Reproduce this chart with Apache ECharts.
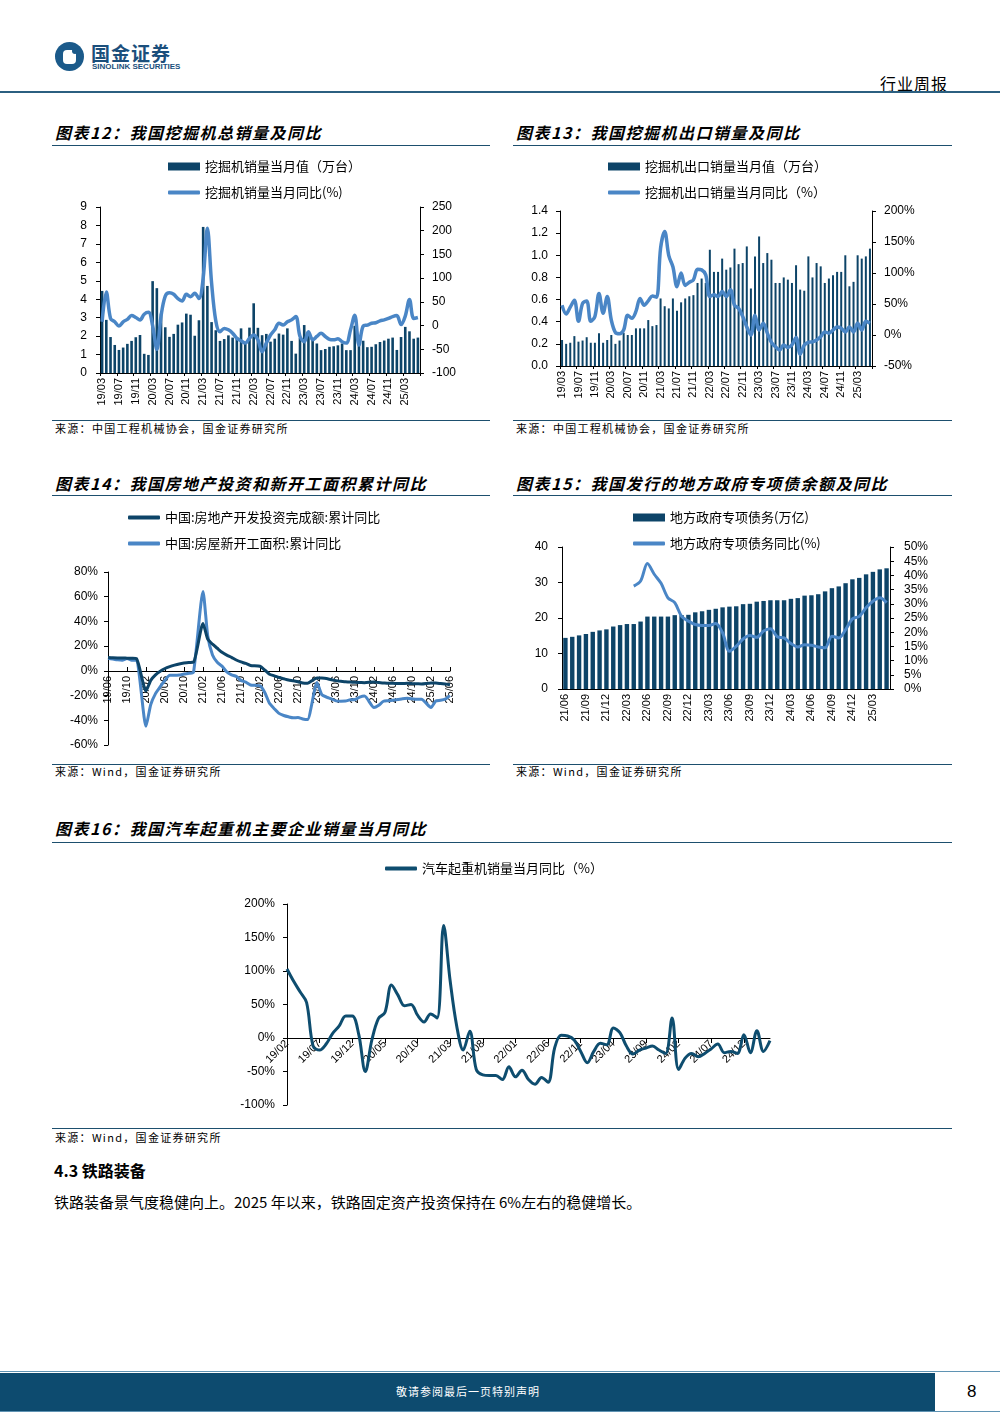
<!DOCTYPE html>
<html><head><meta charset="utf-8">
<script src="https://cdn.jsdelivr.net/npm/echarts/dist/echarts.min.js"></script>
<style>
body{margin:0;background:#fff;}
#page{position:relative;width:1000px;height:1414px;overflow:hidden;font-family:"Noto Sans CJK SC",sans-serif;color:#000;}
.chart{position:absolute;left:0;top:0;width:1000px;height:1414px;}
.t{position:absolute;white-space:nowrap;line-height:1;}
.title{font-size:16px;font-weight:bold;font-style:italic;letter-spacing:1.5px;}
.src{font-size:11px;letter-spacing:1.3px;}
.hl{position:absolute;height:1px;background:#1d4f6e;}
</style></head>
<body><div id="page">
<!-- header -->
<div style="position:absolute;left:55px;top:42px;width:29px;height:29px;border-radius:50%;background:#1b5a8a;"></div>
<div style="position:absolute;left:63px;top:50px;width:13px;height:14px;background:#fff;border-radius:4px;"></div>
<div style="position:absolute;left:72px;top:48px;width:6px;height:6px;background:#1b5a8a;border-radius:50%;"></div>
<div class="t" style="left:91px;top:43px;font-size:19px;font-weight:bold;color:#1b4f7c;letter-spacing:1px;">国金证券</div>
<div class="t" style="left:92px;top:63px;font-size:8px;font-weight:bold;color:#1b4f7c;font-family:'Liberation Sans',Arial,sans-serif;">SINOLINK SECURITIES</div>
<div class="t" style="left:880px;top:75px;font-size:16px;letter-spacing:1px;">行业周报</div>
<div style="position:absolute;left:0;top:91px;width:1000px;height:2px;background:#2b5f80;"></div>

<!-- chart titles and sources -->
<div class="t title" style="left:55px;top:124px;">图表12：我国挖掘机总销量及同比</div>
<div class="hl" style="left:52px;top:145px;width:438px;"></div>
<div class="t title" style="left:516px;top:124px;">图表13：我国挖掘机出口销量及同比</div>
<div class="hl" style="left:513px;top:145px;width:439px;"></div>
<div class="hl" style="left:52px;top:420px;width:438px;"></div>
<div class="hl" style="left:513px;top:420px;width:439px;"></div>
<div class="t src" style="left:55px;top:423px;">来源：中国工程机械协会，国金证券研究所</div>
<div class="t src" style="left:516px;top:423px;">来源：中国工程机械协会，国金证券研究所</div>

<div class="t title" style="left:55px;top:475px;">图表14：我国房地产投资和新开工面积累计同比</div>
<div class="hl" style="left:52px;top:495px;width:438px;"></div>
<div class="t title" style="left:516px;top:475px;">图表15：我国发行的地方政府专项债余额及同比</div>
<div class="hl" style="left:513px;top:495px;width:439px;"></div>
<div class="hl" style="left:52px;top:764px;width:438px;"></div>
<div class="hl" style="left:513px;top:764px;width:439px;"></div>
<div class="t src" style="left:55px;top:766px;">来源：Wind，国金证券研究所</div>
<div class="t src" style="left:516px;top:766px;">来源：Wind，国金证券研究所</div>

<div class="t title" style="left:55px;top:820px;">图表16：我国汽车起重机主要企业销量当月同比</div>
<div class="hl" style="left:52px;top:842px;width:900px;"></div>
<div class="hl" style="left:52px;top:1128px;width:900px;"></div>
<div class="t src" style="left:55px;top:1132px;">来源：Wind，国金证券研究所</div>

<div class="t" style="left:54px;top:1162px;font-size:16px;font-weight:bold;">4.3 铁路装备</div>
<div class="t" style="left:54px;top:1194px;font-size:15px;">铁路装备景气度稳健向上。2025 年以来，铁路固定资产投资保持在 6%左右的稳健增长。</div>

<!-- footer -->
<div style="position:absolute;left:0;top:1371px;width:1000px;height:1px;background:#5f93b3;"></div>
<div style="position:absolute;left:0;top:1373px;width:935px;height:38px;background:#0d4b6f;"></div>
<div style="position:absolute;left:0;top:1411px;width:1000px;height:1px;background:#5f93b3;"></div>
<div class="t" style="left:396px;top:1386px;font-size:11px;color:#fff;letter-spacing:1px;">敬请参阅最后一页特别声明</div>
<div class="t" style="left:967px;top:1383px;font-size:17px;font-family:'Liberation Sans',Arial,sans-serif;">8</div>

<div id="c12" class="chart"></div>
<div id="c13" class="chart"></div>
<div id="c14" class="chart"></div>
<div id="c15" class="chart"></div>
<div id="c16" class="chart"></div>
</div>
<script>
// ---------- data ----------
const excavatorMonths = ['19/03','19/04','19/05','19/06','19/07','19/08','19/09','19/10','19/11','19/12',
 '20/01','20/02','20/03','20/04','20/05','20/06','20/07','20/08','20/09','20/10','20/11','20/12',
 '21/01','21/02','21/03','21/04','21/05','21/06','21/07','21/08','21/09','21/10','21/11','21/12',
 '22/01','22/02','22/03','22/04','22/05','22/06','22/07','22/08','22/09','22/10','22/11','22/12',
 '23/01','23/02','23/03','23/04','23/05','23/06','23/07','23/08','23/09','23/10','23/11','23/12',
 '24/01','24/02','24/03','24/04','24/05','24/06','24/07','24/08','24/09','24/10','24/11','24/12',
 '25/01','25/02','25/03','25/04','25/05','25/06'];
const excavatorSales = [4.45,2.88,1.95,1.52,1.25,1.38,1.58,1.74,1.94,2.06,1.04,0.98,
 4.98,4.6,3.22,2.48,1.96,2.12,2.62,2.74,3.22,3.16,2.02,2.86,
 7.92,4.72,2.76,2.32,1.74,1.84,2.04,1.92,1.95,2.42,1.62,2.46,
 3.78,2.45,2.05,2.12,1.7,1.86,2.14,2.08,2.42,1.74,1.05,1.9,
 2.6,2.2,1.9,1.6,1.24,1.3,1.42,1.45,1.5,1.6,1.24,1.24,
 2.56,1.95,1.75,1.4,1.42,1.56,1.68,1.76,1.86,1.92,1.25,1.95,
 2.5,2.26,1.86,1.92];
const excavatorYoY = [8,71,15,8,-1,8,13,21,17,12,24,28,
 0,-50,20,62,69,66,57,52,66,61,68,57,
 100,205,90,10,-13,-6,-9,-16,-27,-32,-37,-27,
 -20,-30,-55,-37,-20,-9,5,1,8,12,19,-23,
 -34,-13,-30,-23,-16,-23,-29,-30,-28,-34,-37,-9,
 22,-41,-1,1,5,6,10,12,15,19,21,2,
 20,55,15,17];
const exportSales = [0.235,0.2,0.21,0.27,0.22,0.23,0.26,0.21,0.21,0.295,0.21,0.235,
 0.28,0.2,0.23,0.3,0.28,0.28,0.34,0.34,0.34,0.415,0.36,0.37,
 0.61,0.54,0.52,0.61,0.5,0.575,0.61,0.63,0.64,0.75,0.79,0.75,
 1.05,0.85,0.85,0.97,0.87,0.89,1.06,0.92,0.93,1.08,0.7,0.99,
 1.17,0.93,1.02,0.96,0.75,0.75,0.8,0.78,0.75,0.91,0.69,0.68,
 0.99,0.8,0.93,0.9,0.75,0.79,0.82,0.85,0.85,1.0,0.72,0.76,
 1.0,0.97,0.99,1.06];
const exportYoY = [48,34,45,56,22,51,55,22,30,67,35,62,
 24,4,2,8,32,27,38,59,48,55,63,61,
 140,167,128,110,78,100,80,85,89,106,105,97,
 62,65,62,70,62,73,48,43,30,13,0,32,
 8,19,3,-12,-19,-24,-16,-20,-16,-4,-31,-16,
 -12,-11,-8,-3,5,3,8,13,11,5,13,5,
 19,8,22,19];

const estateMonths = ['19/06','19/07','19/08','19/09','19/10','19/11','19/12',
 '20/01','20/02','20/03','20/04','20/05','20/06','20/07','20/08','20/09','20/10','20/11','20/12',
 '21/01','21/02','21/03','21/04','21/05','21/06','21/07','21/08','21/09','21/10','21/11','21/12',
 '22/01','22/02','22/03','22/04','22/05','22/06','22/07','22/08','22/09','22/10','22/11','22/12',
 '23/01','23/02','23/03','23/04','23/05','23/06','23/07','23/08','23/09','23/10','23/11','23/12',
 '24/01','24/02','24/03','24/04','24/05','24/06','24/07','24/08','24/09','24/10','24/11','24/12',
 '25/01','25/02','25/03','25/04','25/05','25/06'];
const estateInvest = [10.9,10.6,10.5,10.5,10.3,10.2,9.9,
 null,-16.3,-7.7,-3.3,-0.3,1.9,3.4,4.6,5.6,6.3,6.8,7.0,
 null,38.3,25.6,21.6,18.3,15.0,12.7,10.9,8.8,7.2,6.0,4.4,
 null,3.7,0.7,-2.7,-4.0,-5.4,-6.4,-7.4,-8.0,-8.8,-9.8,-10.0,
 null,-5.7,-5.8,-6.2,-7.2,-7.9,-8.5,-8.8,-9.1,-9.3,-9.4,-9.6,
 null,-9.0,-9.5,-9.8,-10.1,-10.1,-10.2,-10.2,-10.1,-10.3,-10.4,-10.6,
 null,-9.8,-9.9,-10.3,-10.7,-11.2];
const estateNewStart = [10.1,9.5,8.9,8.6,10.0,8.6,8.5,
 null,-44.9,-27.2,-18.4,-12.8,-7.6,-3.6,-3.6,-3.4,-2.6,-2.0,-1.2,
 null,64.3,28.2,12.8,6.9,3.8,-0.9,-3.2,-4.5,-7.7,-9.1,-11.4,
 null,-12.2,-17.5,-26.3,-30.6,-34.4,-36.1,-37.2,-38.0,-37.8,-38.9,-39.4,
 null,-9.4,-19.2,-21.2,-22.6,-24.3,-24.5,-24.4,-23.4,-23.2,-21.2,-20.4,
 null,-29.7,-27.8,-24.6,-24.2,-23.7,-23.2,-22.5,-22.2,-22.6,-23.0,-23.0,
 null,-29.6,-24.4,-23.8,-22.8,-20.0];

const bondMonths = ['21/06','21/07','21/08','21/09','21/10','21/11','21/12',
 '22/01','22/02','22/03','22/04','22/05','22/06','22/07','22/08','22/09','22/10','22/11','22/12',
 '23/01','23/02','23/03','23/04','23/05','23/06','23/07','23/08','23/09','23/10','23/11','23/12',
 '24/01','24/02','24/03','24/04','24/05','24/06','24/07','24/08','24/09','24/10','24/11','24/12',
 '25/01','25/02','25/03','25/04','25/05'];
const bondBalance = [14.4,14.7,15.1,15.5,16.1,16.5,16.8,17.6,18.0,18.3,18.3,19.0,
 20.4,20.4,20.4,20.4,20.8,20.8,20.9,21.6,21.9,22.3,22.6,23.0,
 23.2,23.3,23.9,24.0,24.6,24.8,25.0,25.0,25.0,25.4,25.6,26.3,
 26.4,26.7,27.5,28.4,28.9,29.8,30.9,31.3,32.3,33.0,33.7,34.0];
const bondYoY = [null,null,null,null,null,null,null,null,null,null,
 36.2,38.0,44.2,40.4,37.2,32.1,30.4,25.6,23.9,
 22.7,22.4,22.4,23.1,19.8,13.3,15.1,17.6,18.8,18.2,20.4,21.2,
 18.4,18.0,16.0,14.8,15.6,15.4,14.8,14.5,18.6,18.0,20.9,24.7,
 25.6,28.6,30.9,32.1,30.4];

const craneMonths = ['19/02','19/03','19/04','19/05','19/06','19/07','19/08','19/09','19/10','19/11','19/12',
 '20/01','20/02','20/03','20/04','20/05','20/06','20/07','20/08','20/09','20/10','20/11','20/12',
 '21/01','21/02','21/03','21/04','21/05','21/06','21/07','21/08','21/09','21/10','21/11','21/12',
 '22/01','22/02','22/03','22/04','22/05','22/06','22/07','22/08','22/09','22/10','22/11','22/12',
 '23/01','23/02','23/03','23/04','23/05','23/06','23/07','23/08','23/09','23/10','23/11','23/12',
 '24/01','24/02','24/03','24/04','24/05','24/06','24/07','24/08','24/09','24/10','24/11','24/12',
 '25/01','25/02','25/03','25/04'];
const craneYoY = [103,85,69,53,-12,-18,-9,7,18,33,33,5,
 -50,-3,29,38,79,64,48,50,34,24,36,30,
 168,85,18,-18,10,-47,-55,-56,-56,-62,-43,-58,
 -48,-62,-69,-59,-66,-15,4,3,-3,-20,-37,-20,
 -8,-10,15,8,-12,-24,-18,-15,-12,-18,-23,30,
 -47,-30,-23,-28,-23,-16,-9,-22,-20,-23,5,-22,
 11,-20,-4];

// ---------- styles ----------
const NUM = "'Liberation Sans', Arial, sans-serif";
const CJK = "'Noto Sans CJK SC', sans-serif";
const DARK = '#0d4468';
const BLUE = '#4a86c6';
const lab = (extra) => Object.assign({color:'#000', fontFamily:NUM, fontSize:12}, extra||{});
const blackLine = {show:true, lineStyle:{color:'#000', width:1}};
const tick = {show:true, length:4, lineStyle:{color:'#000'}};
const legTxt = {fontFamily:CJK, fontSize:13, color:'#000'};
const barLegend = (left, top, name) => ({left, top, padding:0, itemWidth:32, itemHeight:8, textStyle:legTxt, data:[{name, icon:'rect'}]});
const lineLegend = (left, top, names) => ({orient:'vertical', left, top, padding:0, itemWidth:32, itemHeight:4, itemGap:13, textStyle:legTxt, data:names.map(n=>({name:n, icon:'roundRect'}))});
const pct = v => v + '%';

function make(id, opt){
  const c = echarts.init(document.getElementById(id), null, {renderer:'canvas'});
  opt.animation = false;
  c.setOption(opt);
}

// Chart 12
make('c12', {
  legend: [barLegend(168, 160, '挖掘机销量当月值（万台）'), lineLegend(168, 186, ['挖掘机销量当月同比(%)'])],
  grid:{left:100, top:207, width:320, height:166},
  xAxis:{type:'category', data:excavatorMonths, axisLine:blackLine, axisTick:{show:true, length:3, lineStyle:{color:'#000'}},
    axisLabel:lab({interval:3, rotate:90, fontSize:11, margin:5})},
  yAxis:[
    {type:'value', min:0, max:9, interval:1, axisLine:blackLine, axisTick:tick, splitLine:{show:false}, axisLabel:lab({margin:13})},
    {type:'value', min:-100, max:250, interval:50, position:'right', axisLine:blackLine, axisTick:tick, splitLine:{show:false}, axisLabel:lab({margin:12})}
  ],
  series:[
    {name:'挖掘机销量当月值（万台）', type:'bar', data:excavatorSales, barWidth:2.6, itemStyle:{color:DARK}},
    {name:'挖掘机销量当月同比(%)', type:'line', yAxisIndex:1, data:excavatorYoY, smooth:0.35, symbol:'none', lineStyle:{width:3.5, color:BLUE}, itemStyle:{color:BLUE}}
  ]
});

// Chart 13
make('c13', {
  legend: [barLegend(608, 160, '挖掘机出口销量当月值（万台）'), lineLegend(608, 186, ['挖掘机出口销量当月同比（%）'])],
  grid:{left:560, top:211, width:312, height:155},
  xAxis:{type:'category', data:excavatorMonths, axisLine:blackLine, axisTick:{show:true, length:3, lineStyle:{color:'#000'}},
    axisLabel:lab({interval:3, rotate:90, fontSize:11, margin:5})},
  yAxis:[
    {type:'value', min:0, max:1.4, interval:0.2, axisLine:blackLine, axisTick:tick, splitLine:{show:false}, axisLabel:lab({margin:12, formatter:v=>v.toFixed(1)})},
    {type:'value', min:-50, max:200, interval:50, position:'right', axisLine:blackLine, axisTick:tick, splitLine:{show:false}, axisLabel:lab({margin:12, formatter:pct})}
  ],
  series:[
    {name:'挖掘机出口销量当月值（万台）', type:'bar', data:exportSales, barWidth:2, itemStyle:{color:DARK}},
    {name:'挖掘机出口销量当月同比（%）', type:'line', yAxisIndex:1, data:exportYoY, smooth:0.35, symbol:'none', lineStyle:{width:3.5, color:BLUE}, itemStyle:{color:BLUE}}
  ]
});

// Chart 14 (x axis drawn at the 0% level: grid bottom 745, zero at 671)
make('c14', {
  legend: lineLegend(128, 511, ['中国:房地产开发投资完成额:累计同比', '中国:房屋新开工面积:累计同比']),
  grid:{left:108, top:572, width:342, height:173},
  xAxis:{type:'category', data:estateMonths, boundaryGap:false, offset:-74, axisLine:{onZero:false, lineStyle:{color:'#000'}},
    axisTick:{show:true, inside:true, interval:3, length:4, lineStyle:{color:'#000'}},
    axisLabel:lab({interval:3, rotate:90, fontSize:11, margin:5})},
  yAxis:{type:'value', min:-60, max:80, interval:20, axisLine:blackLine, axisTick:tick, splitLine:{show:false}, axisLabel:lab({margin:10, formatter:pct})},
  series:[
    {name:'中国:房地产开发投资完成额:累计同比', type:'line', data:estateInvest, connectNulls:true, smooth:0.2, symbol:'none', lineStyle:{width:3, color:DARK}, itemStyle:{color:DARK}, z:3},
    {name:'中国:房屋新开工面积:累计同比', type:'line', data:estateNewStart, connectNulls:true, smooth:0.2, symbol:'none', lineStyle:{width:3, color:BLUE}, itemStyle:{color:BLUE}, z:2}
  ]
});

// Chart 15
make('c15', {
  legend: [barLegend(633, 511, '地方政府专项债务(万亿)'), lineLegend(633, 537, ['地方政府专项债务同比(%)'])],
  grid:{left:562, top:547, width:328, height:142},
  xAxis:{type:'category', data:bondMonths, axisLine:blackLine, axisTick:{show:false},
    axisLabel:lab({interval:2, rotate:90, fontSize:11, margin:5})},
  yAxis:[
    {type:'value', min:0, max:40, interval:10, axisLine:blackLine, axisTick:tick, splitLine:{show:false}, axisLabel:lab({margin:14})},
    {type:'value', min:0, max:50, interval:5, position:'right', axisLine:blackLine, axisTick:tick, splitLine:{show:false}, axisLabel:lab({margin:14, formatter:pct})}
  ],
  series:[
    {name:'地方政府专项债务(万亿)', type:'bar', data:bondBalance, barWidth:4.4, itemStyle:{color:DARK}},
    {name:'地方政府专项债务同比(%)', type:'line', yAxisIndex:1, data:bondYoY, smooth:0.3, symbol:'none', lineStyle:{width:3, color:BLUE}, itemStyle:{color:BLUE}}
  ]
});

// Chart 16 (x axis drawn at the 0% level: grid bottom 1105, zero at 1038)
make('c16', {
  legend: lineLegend(385, 862, ['汽车起重机销量当月同比（%）']),
  grid:{left:287, top:904, width:483, height:201},
  xAxis:{type:'category', data:craneMonths, boundaryGap:false, offset:-67, axisLine:{onZero:false, lineStyle:{color:'#000'}},
    axisTick:{show:true, interval:4, length:5, lineStyle:{color:'#000'}},
    axisLabel:lab({interval:4, rotate:45, fontSize:11, margin:4})},
  yAxis:{type:'value', min:-100, max:200, interval:50, axisLine:blackLine, axisTick:tick, splitLine:{show:false}, axisLabel:lab({margin:12, formatter:pct})},
  series:[
    {name:'汽车起重机销量当月同比（%）', type:'line', data:craneYoY, smooth:0.35, symbol:'none', lineStyle:{width:3, color:'#0e4d6f'}, itemStyle:{color:'#0e4d6f'}}
  ]
});
</script>
</body></html>
